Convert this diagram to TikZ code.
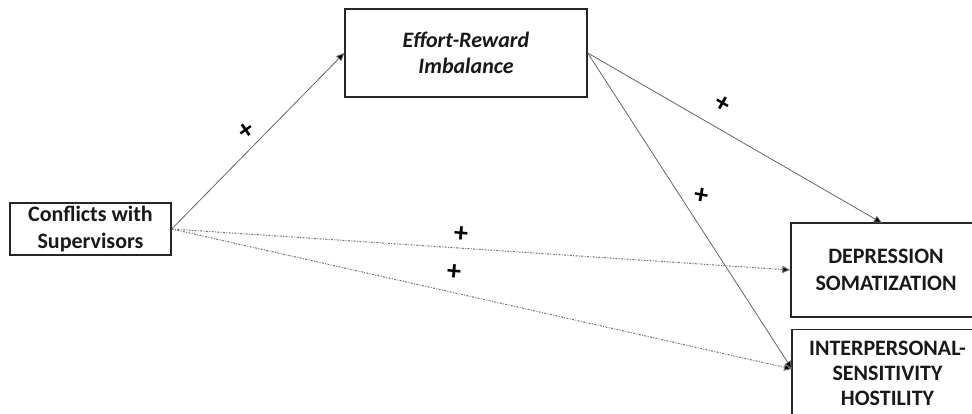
\documentclass[tikz,border=0pt]{standalone}
\usepackage{fontspec}
\setmainfont{Carlito}
\usetikzlibrary{arrows.meta}
\tikzset{
  box/.style={draw=black!85, line width=1.4pt, align=center, inner sep=0pt,
    font=\fontsize{22}{26.5}\selectfont\bfseries, text=black!90},
  conn/.style={draw=black!60, line width=0.8pt, -{Triangle[length=8pt,width=7pt,fill=black]}},
  dotconn/.style={conn, draw=black!55, line width=1pt, dash pattern=on 2pt off 1.4pt on 0.9pt off 1.4pt},
  sign/.style={font=\fontsize{28}{28}\selectfont\bfseries, inner sep=0pt}
}
\begin{document}
\begin{tikzpicture}[x=1pt,y=-1pt]
\clip (0,0) rectangle (972,414);
\fill[white] (0,0) rectangle (972,414);
\node[box, minimum width=161pt, minimum height=52pt] (cws) at (90.5,229) {Conflicts with\\Supervisors};
\node[box, minimum width=242pt, minimum height=88pt] (eri) at (466,53) {\itshape Effort-Reward\\\itshape Imbalance};
\node[box, minimum width=196pt, minimum height=94pt] (dep) at (889,270) {\hspace*{-6pt}DEPRESSION\\\hspace*{-6pt}SOMATIZATION};
\node[box, minimum width=196pt, minimum height=88pt, anchor=north,
  font=\fontsize{22}{25}\selectfont\bfseries] (ips) at (890,329) {\hspace*{-5pt}INTERPERSONAL-\\\hspace*{-5pt}SENSITIVITY\\\hspace*{-5pt}HOSTILITY};
\coordinate (ipsin) at (792,369);
\coordinate (depin) at (882,223);
\draw[conn] (cws.east) -- (eri.west);
\draw[conn] (eri.east) -- (depin);
\draw[conn] (eri.east) -- (ipsin);
\draw[dotconn] (cws.east) -- (dep.west);
\draw[dotconn] (cws.east) -- (ipsin);
\node[sign, rotate=35] (s1) at (247,131) {+};
\node[sign, rotate=-30] (s2) at (722,104) {+};
\node[sign, rotate=-10] (s3) at (701,196) {+};
\node[sign, rotate=-5] (s4) at (461,234) {+};
\node[sign, rotate=-5] (s5) at (454,272) {+};
\end{tikzpicture}
\end{document}
